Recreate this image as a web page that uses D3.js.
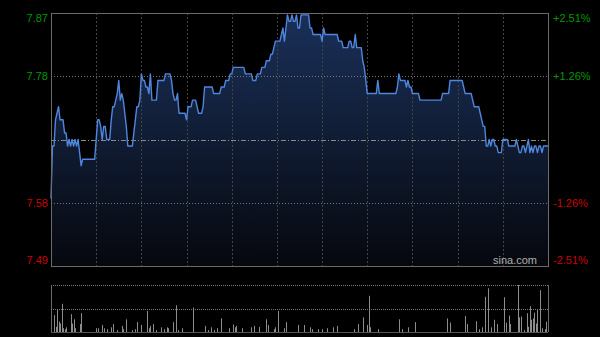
<!DOCTYPE html>
<html>
<head>
<meta charset="utf-8">
<script src="https://cdn.jsdelivr.net/npm/d3@7/dist/d3.min.js"></script>
<style>
  html, body { margin: 0; padding: 0; background: #000; }
  svg { display: block; }
  text { font-family: "Liberation Sans", Arial, sans-serif; font-size: 11px; }
</style>
</head>
<body>
<div class="chart"></div>
<script>
var prevClose = 7.68;

// one price per minute, 9:30-12:00 and 13:00-16:00 (331 points)
var prices = [
  7.59,7.67,7.67,7.71,7.72,7.73,7.71,7.71,7.71,7.69,
  7.69,7.67,7.68,7.67,7.68,7.67,7.68,7.67,7.68,7.66,
  7.64,7.65,7.65,7.65,7.65,7.65,7.65,7.65,7.65,7.65,
  7.68,7.71,7.71,7.70,7.68,7.70,7.70,7.68,7.68,7.68,
  7.71,7.73,7.73,7.74,7.75,7.77,7.74,7.75,7.74,7.72,
  7.70,7.67,7.67,7.67,7.67,7.69,7.71,7.73,7.73,7.74,
  7.78,7.77,7.77,7.76,7.76,7.75,7.78,7.74,7.74,7.74,
  7.74,7.77,7.77,7.77,7.77,7.77,7.78,7.78,7.78,7.78,
  7.77,7.75,7.74,7.74,7.75,7.72,7.72,7.72,7.72,7.72,
  7.71,7.73,7.73,7.73,7.74,7.74,7.74,7.73,7.72,7.72,
  7.72,7.73,7.76,7.76,7.76,7.76,7.76,7.76,7.75,7.75,
  7.75,7.75,7.75,7.76,7.76,7.76,7.77,7.77,7.77,7.78,
  7.78,7.79,7.79,7.79,7.79,7.79,7.79,7.79,7.79,7.78,
  7.78,7.78,7.78,7.78,7.77,7.77,7.77,7.78,7.78,7.78,
  7.79,7.79,7.79,7.80,7.80,7.80,7.81,7.81,7.82,7.83,
  7.83,7.83,7.83,7.84,7.85,7.83,7.85,7.87,7.86,7.86,
  7.87,7.86,7.86,7.87,7.85,7.85,7.87,7.87,7.87,7.87,
  7.87,7.87,7.85,7.85,7.84,7.84,7.84,7.84,7.84,7.84,
  7.83,7.85,7.84,7.84,7.84,7.84,7.84,7.84,7.84,7.84,
  7.84,7.83,7.83,7.83,7.82,7.82,7.82,7.82,7.83,7.83,
  7.82,7.82,7.84,7.82,7.82,7.82,7.82,7.80,7.79,7.77,
  7.75,7.75,7.75,7.75,7.75,7.75,7.75,7.77,7.75,7.75,
  7.75,7.75,7.75,7.75,7.75,7.75,7.75,7.75,7.75,7.75,
  7.76,7.78,7.77,7.77,7.77,7.77,7.76,7.77,7.76,7.76,
  7.75,7.75,7.75,7.75,7.75,7.74,7.74,7.74,7.74,7.74,
  7.74,7.74,7.74,7.74,7.74,7.74,7.74,7.74,7.74,7.74,
  7.75,7.75,7.75,7.75,7.75,7.77,7.77,7.77,7.77,7.77,
  7.77,7.77,7.77,7.77,7.76,7.75,7.75,7.75,7.75,7.75,
  7.74,7.73,7.73,7.73,7.73,7.72,7.71,7.70,7.70,7.67,
  7.67,7.68,7.67,7.68,7.68,7.67,7.67,7.66,7.66,7.66,
  7.68,7.68,7.68,7.68,7.67,7.67,7.67,7.67,7.67,7.68,
  7.67,7.66,7.66,7.67,7.67,7.66,7.67,7.68,7.66,7.67,
  7.66,7.67,7.67,7.66,7.67,7.67,7.66,7.67,7.67,7.67,7.67
];

// [minute, volume] for the visible volume bars (relative units)
var volumes = [
  [0,52],[2,36],[3,11],[4,48],[5,22],[6,18],[7,60],[8,8],[9,6],[10,10],
  [13,38],[14,18],[15,27],[16,8],[19,17],[20,40],[30,8],[31,8],[34,15],[35,8],
  [37,6],[40,10],[41,17],[44,4],[47,13],[48,6],[50,27],[54,4],[56,6],[57,21],
  [60,15],[64,45],[65,8],[66,13],[68,17],[70,4],[73,10],[75,6],[77,10],[78,8],
  [81,21],[83,57],[84,4],[87,8],[94,52],[102,13],[104,4],[106,10],[108,4],[110,8],
  [113,29],[118,8],[121,16],[122,10],[123,13],[127,8],[133,10],[135,13],[138,11],[143,27],
  [144,15],[148,6],[149,10],[151,45],[155,8],[156,21],[164,15],[168,15],[172,10],[173,6],
  [177,6],[180,6],[183,8],[187,10],[190,13],[201,6],[204,17],[207,31],[210,15],[211,77],
  [212,10],[217,6],[231,27],[233,6],[237,10],[242,21],[263,29],[265,20],[275,34],[276,17],
  [282,23],[284,6],[286,10],[288,75],[290,93],[292,10],[294,26],[296,17],[301,74],[302,20],
  [304,35],[305,17],[310,100],[311,31],[312,33],[314,4],[316,40],[317,11],[318,55],[319,26],
  [320,29],[321,41],[322,18],[323,47],[325,89],[326,8],[328,6],[329,22]
];

var leftLabels = ["7.87", "7.78", "", "7.58", "7.49"];
var rightLabels = ["+2.51%", "+1.26%", "", "-1.26%", "-2.51%"];
var labelColors = ["#009900", "#009900", "", "#cc0000", "#cc0000"];

var width = 600, height = 337;
var plot = {left: 51, right: 548, top: 13, bottom: 266};
var vol = {top: 285, bottom: 332};

var svg = d3.select("body div.chart").append("svg")
            .attr("width", width).attr("height", height);

var x = d3.scaleLinear().domain([0, 330]).range([plot.left, plot.right]);

var half = 0.1928;
var y = d3.scaleLinear()
          .domain([prevClose - half, prevClose + half])
          .range([plot.bottom, plot.top]);

var yVol = d3.scaleLinear().domain([0, 100]).range([vol.bottom, vol.top]);

// gradient under the line
var grad = svg.append("defs").append("linearGradient")
              .attr("id", "areaGrad")
              .attr("gradientUnits", "userSpaceOnUse")
              .attr("x1", 0).attr("x2", 0)
              .attr("y1", plot.top).attr("y2", plot.bottom);
grad.append("stop").attr("offset", "0%").attr("stop-color", "#1a3059");
grad.append("stop").attr("offset", "100%").attr("stop-color", "#06080e");

var area = d3.area()
             .x(function(d, i) { return x(i); })
             .y0(plot.bottom)
             .y1(function(d) { return y(d); });

svg.append("path")
   .attr("d", area(prices))
   .attr("fill", "url(#areaGrad)");

// vertical grid, every 30 minutes
var gridMinutes = d3.range(30, 330, 30);
svg.selectAll("line.vgrid")
   .data(gridMinutes)
   .enter().append("line")
      .attr("class", "vgrid")
      .attr("x1", function(d) { return Math.round(x(d)) + 0.5; })
      .attr("x2", function(d) { return Math.round(x(d)) + 0.5; })
      .attr("y1", plot.top).attr("y2", plot.bottom)
      .attr("stroke", "#444").attr("stroke-dasharray", "2,2");

// horizontal grid
var rows = [0, 1, 2, 3, 4].map(function(i) { return plot.top + i * (plot.bottom - plot.top) / 4; });
svg.selectAll("line.hgrid")
   .data([1, 2, 3])
   .enter().append("line")
      .attr("class", "hgrid")
      .attr("x1", plot.left).attr("x2", plot.right)
      .attr("y1", function(d) { return Math.round(rows[d]) + 0.5; })
      .attr("y2", function(d) { return Math.round(rows[d]) + 0.5; })
      .attr("stroke", function(d) { return d == 2 ? "#8a8a8a" : "#777"; })
      .attr("stroke-dasharray", function(d) { return d == 2 ? "5,2,1,2" : "1,2"; });

var line = d3.line()
             .x(function(d, i) { return x(i); })
             .y(function(d) { return y(d); });

svg.append("path")
   .attr("d", line(prices))
   .attr("fill", "none")
   .attr("stroke", "#4f86de")
   .attr("stroke-width", 1.4)
   .attr("stroke-linejoin", "round");

// frame
svg.append("rect")
   .attr("x", plot.left + 0.5).attr("y", plot.top + 0.5)
   .attr("width", plot.right - plot.left).attr("height", plot.bottom - plot.top)
   .attr("fill", "none").attr("stroke", "#6a6a6a");

// price / percent labels
svg.selectAll("text.left")
   .data(leftLabels)
   .enter().append("text")
      .attr("class", "left")
      .attr("x", plot.left - 3)
      .attr("y", function(d, i) { return rows[i]; })
      .attr("dy", function(d, i) { return i == 0 ? "0.85em" : (i == 4 ? "-0.15em" : "0.35em"); })
      .attr("text-anchor", "end")
      .attr("fill", function(d, i) { return labelColors[i]; })
      .text(function(d) { return d; });

svg.selectAll("text.right")
   .data(rightLabels)
   .enter().append("text")
      .attr("class", "right")
      .attr("x", plot.right + 5)
      .attr("y", function(d, i) { return rows[i]; })
      .attr("dy", function(d, i) { return i == 0 ? "0.85em" : (i == 4 ? "-0.15em" : "0.35em"); })
      .attr("fill", function(d, i) { return labelColors[i]; })
      .text(function(d) { return d; });

svg.append("text")
   .attr("x", plot.right - 11).attr("y", plot.bottom - 2)
   .attr("text-anchor", "end")
   .attr("fill", "#b0b0b0")
   .text("sina.com");

// volume panel
svg.selectAll("line.vguide")
   .data([vol.top, (vol.top + vol.bottom) / 2])
   .enter().append("line")
      .attr("class", "vguide")
      .attr("x1", plot.left).attr("x2", plot.right)
      .attr("y1", function(d) { return Math.round(d) + 0.5; })
      .attr("y2", function(d) { return Math.round(d) + 0.5; })
      .attr("stroke", "#777").attr("stroke-dasharray", "1,1");

svg.selectAll("line.vbar")
   .data(volumes)
   .enter().append("line")
      .attr("class", "vbar")
      .attr("x1", function(d) { return Math.round(x(d[0])) + 0.5; })
      .attr("x2", function(d) { return Math.round(x(d[0])) + 0.5; })
      .attr("y1", vol.bottom)
      .attr("y2", function(d) { return yVol(d[1]); })
      .attr("stroke", "#8c8c8c");

svg.append("line")
   .attr("x1", plot.left).attr("x2", plot.right)
   .attr("y1", vol.bottom + 0.5).attr("y2", vol.bottom + 0.5)
   .attr("stroke", "#555");

svg.selectAll("line.vside")
   .data([plot.left, plot.right])
   .enter().append("line")
      .attr("class", "vside")
      .attr("x1", function(d) { return d + 0.5; })
      .attr("x2", function(d) { return d + 0.5; })
      .attr("y1", vol.top).attr("y2", vol.bottom)
      .attr("stroke", "#6a6a6a");
</script>
</body>
</html>
